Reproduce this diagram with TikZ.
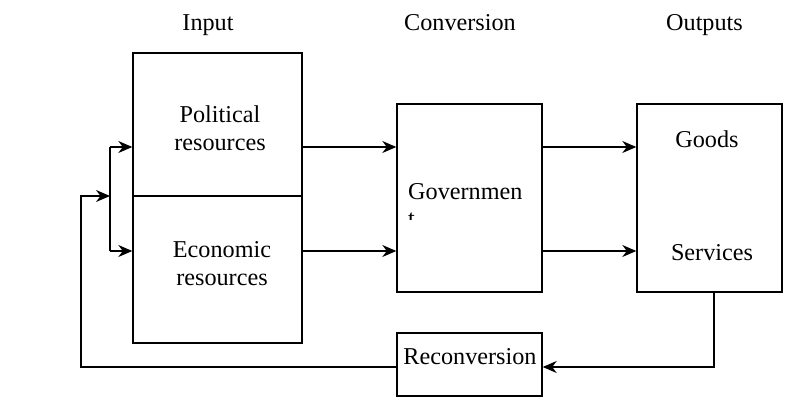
\documentclass[tikz,border=0pt]{standalone}
\usepackage{fontspec}
\setmainfont{Liberation Serif}
\usetikzlibrary{arrows.meta}

\begin{document}
\begin{tikzpicture}[x=1pt,y=-1pt,
	box/.style={draw, line width=1.4pt, inner sep=0pt},
	lbl/.style={inner sep=0pt, anchor=base, align=center, font=\fontsize{24.2}{28}\selectfont},
	ln/.style={line width=1.4pt},
	arr/.style={line width=1.4pt, -{Stealth[length=14pt,width=12pt,inset=4.5pt]}}]
	\useasboundingbox (0,0) rectangle (790,415);
	\node [box, minimum width=169, minimum height=290] (input) at (217.5,198) {};
	\node [box, minimum width=145, minimum height=188] (gov) at (469.5,198) {};
	\node [box, minimum width=145, minimum height=188] (outputs) at (709.5,198) {};
	\node [box, minimum width=145, minimum height=63] (recon) at (469.5,364.5) {};
	\node [lbl] (hin) at (208,30) {Input};
	\node [lbl] (hconv) at (460,30) {Conversion};
	\node [lbl] (hout) at (704.5,30) {Outputs};
	\node [lbl] (pol) at (220,150) {Political\\resources};
	\node [lbl] (eco) at (222,285) {Economic\\resources};
	\node [lbl, anchor=base west] (govtxt) at (408,199) {Governmen};
	\begin{scope}
		\clip (400,205) rectangle (430,219);
		\node [lbl, anchor=base west] (govt) at (408,226) {t};
	\end{scope}
	\node [lbl] (goods) at (707,147) {Goods};
	\node [lbl] (serv) at (712,260) {Services};
	\node [lbl] (rtxt) at (470,364) {Reconversion};
	\coordinate (mid) at (0,196);
	\coordinate (up) at (0,147);
	\coordinate (lo) at (0,251);
	\coordinate (fb) at (714,367);
	\coordinate (fl) at (81,367);
	\coordinate (br) at (110,196);
	\draw [ln] (input.west |- mid) -- (input.east |- mid);
	\draw [arr] (input.east |- up) -- (gov.west |- up);
	\draw [arr] (input.east |- lo) -- (gov.west |- lo);
	\draw [arr] (gov.east |- up) -- (outputs.west |- up);
	\draw [arr] (gov.east |- lo) -- (outputs.west |- lo);
	\draw [arr] (outputs.south -| fb) -- (fb) -- (recon.east |- fb);
	\draw [arr] (recon.west |- fb) -- (fl) |- (br);
	\draw [ln] (br |- up) -- (br |- lo);
	\draw [arr] (br |- up) -- (input.west |- up);
	\draw [arr] (br |- lo) -- (input.west |- lo);
\end{tikzpicture}
\end{document}
